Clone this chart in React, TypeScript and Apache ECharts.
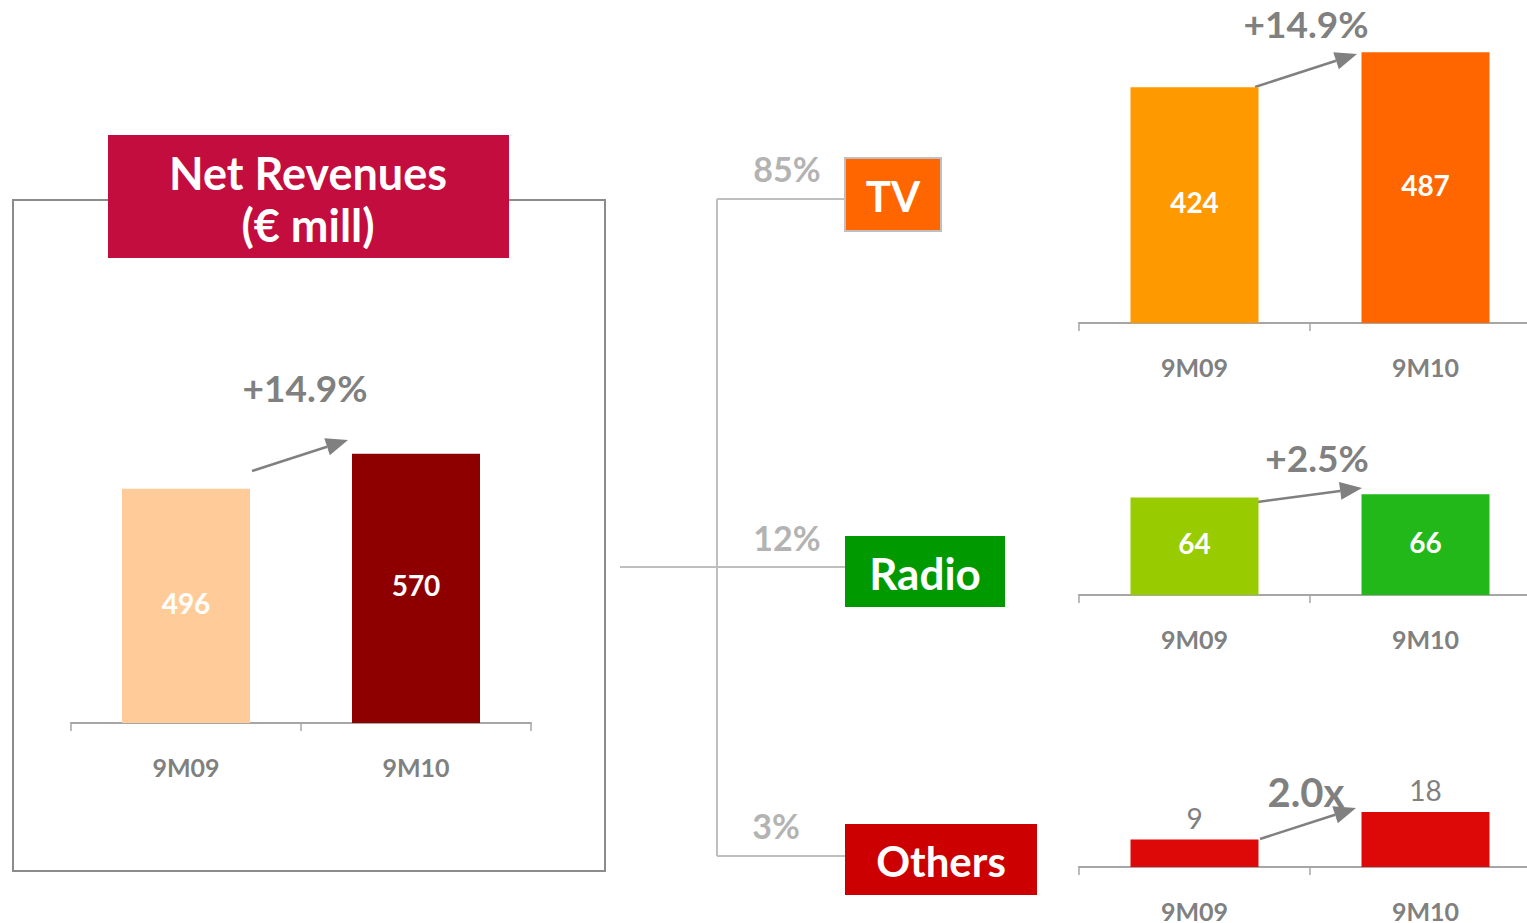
import React, { useEffect, useRef } from "react";
import * as echarts from "echarts";

const categories = ["9M09", "9M10"];
const totalValues = [496, 570];
const tvValues = [424, 487];
const radioValues = [64, 66];
const othersValues = [9, 18];

const totalColors = ["#FFCC99", "#8E0000"];
const tvColors = ["#FF9900", "#FF6600"];
const radioColors = ["#99CC00", "#22B81A"];
const othersColors = ["#DD0808", "#DD0808"];

const growthLabels = ["+14.9%", "+14.9%", "+2.5%", "2.0x"];
const shareLabels = ["85%", "12%", "3%"];
const segmentNames = ["TV", "Radio", "Others"];

const FONT = "Lato, 'Open Sans', sans-serif";
const GRAY = "#808080";

function arrow(x1: number, y1: number, x2: number, y2: number) {
  const dx = x2 - x1;
  const dy = y2 - y1;
  const len = Math.sqrt(dx * dx + dy * dy);
  const ux = dx / len;
  const uy = dy / len;
  const hl = 22;
  const hw = 9;
  const bx = x2 - ux * hl;
  const by = y2 - uy * hl;
  return [
    {
      type: "line",
      shape: { x1, y1, x2: bx, y2: by },
      style: { stroke: GRAY, lineWidth: 2.5 },
    },
    {
      type: "polygon",
      shape: {
        points: [
          [x2, y2],
          [bx - uy * hw, by + ux * hw],
          [bx + uy * hw, by - ux * hw],
        ],
      },
      style: { fill: GRAY },
    },
  ];
}

function txt(x: number, y: number, text: string, size: number, color: string, weight: any = "bold") {
  return {
    type: "text",
    x,
    y,
    style: {
      text,
      fill: color,
      font: `${weight} ${size}px ${FONT}`,
      textAlign: "center",
      textVerticalAlign: "middle",
    },
  };
}

export default function App() {
  const ref = useRef<HTMLDivElement>(null);
  useEffect(() => {
    document.body.style.margin = "0";
    document.body.style.overflow = "hidden";
    const chart = echarts.init(ref.current!, null, { renderer: "svg" });

    const grids = [
      { left: 71, width: 460, top: 345, height: 378 }, // total, max 800
      { left: 1079, width: 462, top: 45, height: 278 }, // tv, max 500
      { left: 1079, width: 462, top: 473, height: 122 }, // radio, max 80
      { left: 1079, width: 462, top: 806, height: 61 }, // others, max 20
    ];
    const maxes = [800, 500, 80, 20];
    const datasets = [totalValues, tvValues, radioValues, othersValues];
    const colorSets = [totalColors, tvColors, radioColors, othersColors];

    const xAxes = grids.map((_, i) => ({
      type: "category",
      gridIndex: i,
      data: categories,
      axisLine: { lineStyle: { color: "#A6A6A6", width: 2 } },
      axisTick: { show: true, length: 8, lineStyle: { color: "#A6A6A6", width: 1.5 } },
      axisLabel: {
        color: GRAY,
        fontSize: 25,
        fontWeight: "bold",
        fontFamily: FONT,
        margin: 31,
      },
    }));
    const yAxes = grids.map((_, i) => ({
      type: "value",
      gridIndex: i,
      min: 0,
      max: maxes[i],
      show: false,
      splitLine: { show: false },
    }));
    const series = datasets.map((vals, i) => ({
      type: "bar",
      xAxisIndex: i,
      yAxisIndex: i,
      barWidth: 128,
      data: vals.map((v, j) => ({ value: v, itemStyle: { color: colorSets[i][j] } })),
      label: {
        show: true,
        position: i === 3 ? "top" : "inside",
        distance: 8,
        color: i === 3 ? GRAY : "#FFFFFF",
        fontSize: 28,
        fontWeight: i === 3 ? "normal" : "bold",
        fontFamily: FONT,
        offset: i === 3 ? [0, 0] : [0, -3],
      },
    }));

    const lineStyle = { stroke: "#BFBFBF", lineWidth: 2 };
    const graphic: any[] = [
      // left frame
      { type: "rect", shape: { x: 13, y: 200, width: 592, height: 671 }, style: { fill: "none", stroke: "#8C8C8C", lineWidth: 2 } },
      { type: "rect", shape: { x: 108, y: 135, width: 401, height: 123 }, style: { fill: "#C20D3E" } },
      txt(308, 173, "Net Revenues", 45, "#FFFFFF"),
      txt(308, 225, "(€ mill)", 45, "#FFFFFF"),
      // tree lines
      { type: "line", shape: { x1: 620, y1: 567, x2: 845, y2: 567 }, style: lineStyle },
      { type: "line", shape: { x1: 717, y1: 199, x2: 717, y2: 856 }, style: lineStyle },
      { type: "line", shape: { x1: 717, y1: 199, x2: 845, y2: 199 }, style: lineStyle },
      { type: "line", shape: { x1: 717, y1: 856, x2: 845, y2: 856 }, style: lineStyle },
      // segment boxes
      { type: "rect", shape: { x: 845, y: 158, width: 96, height: 73 }, style: { fill: "#FF6600", stroke: "#BFBFBF", lineWidth: 2 } },
      { type: "rect", shape: { x: 845, y: 536, width: 160, height: 71 }, style: { fill: "#009900" } },
      { type: "rect", shape: { x: 845, y: 824, width: 192, height: 71 }, style: { fill: "#CC0000" } },
      txt(893, 196, segmentNames[0], 42, "#FFFFFF"),
      txt(925, 573, segmentNames[1], 44, "#FFFFFF"),
      txt(941, 861, segmentNames[2], 42, "#FFFFFF"),
      txt(787, 168, shareLabels[0], 34, "#B3B3B3"),
      txt(787, 537, shareLabels[1], 34, "#B3B3B3"),
      txt(776, 825, shareLabels[2], 34, "#B3B3B3"),
      // growth annotations
      txt(305, 387, growthLabels[0], 37, GRAY),
      txt(1306, 23, growthLabels[1], 37, GRAY),
      txt(1317, 457, growthLabels[2], 37, GRAY),
      txt(1306, 792, growthLabels[3], 40, GRAY),
      ...arrow(252, 471, 348, 440),
      ...arrow(1255, 87, 1357, 54),
      ...arrow(1250, 503, 1362, 488),
      ...arrow(1260, 839, 1356, 808),
    ];

    chart.setOption({
      animation: false,
      backgroundColor: "#FFFFFF",
      grid: grids,
      xAxis: xAxes,
      yAxis: yAxes,
      series,
      graphic,
    });
    return () => chart.dispose();
  }, []);
  return (
    <div
      ref={ref}
      style={{ position: "absolute", left: 0, top: 0, width: 1545, height: 923 }}
    />
  );
}
